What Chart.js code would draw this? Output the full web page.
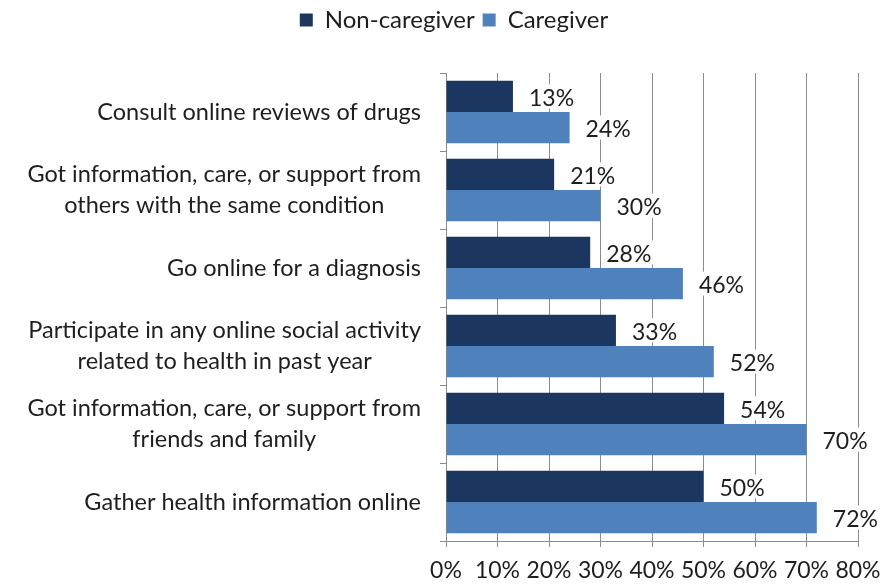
<!DOCTYPE html>
<html>
<head>
<meta charset="utf-8">
<script src="https://cdn.jsdelivr.net/npm/chart.js@4.4.0/dist/chart.umd.min.js"></script>
<style>
  html, body { margin: 0; padding: 0; background: #fff; }
  #wrap { width: 882px; height: 584px; }
</style>
</head>
<body>
<div id="wrap"><canvas id="chart"></canvas></div>
<script>
const categories = [
    ["Consult online reviews of drugs"],
    ["Got information, care, or support from", "others with the same condition"],
    ["Go online for a diagnosis"],
    ["Participate in any online social activity", "related to health in past year"],
    ["Got information, care, or support from", "friends and family"],
    ["Gather health information online"]
];
const nonCaregiver = [13, 21, 28, 33, 54, 50];
const caregiver = [24, 30, 46, 52, 70, 72];
const xTicks = [0, 10, 20, 30, 40, 50, 60, 70, 80];

const FONT = "Lato, 'Open Sans', sans-serif";
const TEXT = "#1e1e1e";

// labels on the left: single lines right aligned, wrapped lines centred together
const catLabels = {
    id: 'catLabels',
    afterDraw(chart) {
        const c = chart.ctx, y = chart.scales.y;
        const right = chart.chartArea.left - 25;
        c.save();
        c.font = "23.5px " + FONT;
        c.fillStyle = TEXT;
        c.textBaseline = 'middle';
        categories.forEach((lines, i) => {
            const cy = y.getPixelForValue(i);
            const w = Math.max(...lines.map(l => c.measureText(l).width));
            const cx = right - w / 2;
            c.textAlign = 'center';
            lines.forEach((l, j) => {
                c.fillText(l, cx, cy + (j - (lines.length - 1) / 2) * 31);
            });
        });
        c.restore();
    }
};

// value labels with white box behind them
const valueLabels = {
    id: 'valueLabels',
    afterDatasetsDraw(chart) {
        const c = chart.ctx;
        c.save();
        c.font = "23px " + FONT;
        c.textBaseline = 'middle';
        c.textAlign = 'left';
        chart.data.datasets.forEach((ds, di) => {
            chart.getDatasetMeta(di).data.forEach((bar, i) => {
                const txt = ds.data[i] + '%';
                const x = bar.x + 16, w = c.measureText(txt).width;
                c.fillStyle = '#fff';
                c.fillRect(x - 2, bar.y - 12, w + 4, 24);
                c.fillStyle = TEXT;
                c.fillText(txt, x, bar.y + 2);
            });
        });
        c.restore();
    }
};

// extra room under the legend, and legend nudged to the right like the original
const legendGap = {
    id: 'legendGap',
    beforeInit(chart) {
        const lg = chart.legend;
        const fit = lg.fit;
        lg.fit = function () {
            fit.bind(lg)();
            this.height += 31;
        };
        const draw = lg.draw;
        lg.draw = function () {
            chart.ctx.save();
            chart.ctx.translate(25, 0);
            draw.apply(lg, arguments);
            chart.ctx.restore();
        };
    }
};

new Chart(document.getElementById('chart'), {
    type: 'bar',
    data: {
        labels: categories,
        datasets: [{
            label: 'Non-caregiver',
            data: nonCaregiver,
            backgroundColor: '#1b365f',
            borderWidth: 0,
            categoryPercentage: 0.8,
            barPercentage: 1.0
        }, {
            label: 'Caregiver',
            data: caregiver,
            backgroundColor: '#4f81bd',
            borderWidth: 0,
            categoryPercentage: 0.8,
            barPercentage: 1.0
        }]
    },
    options: {
        indexAxis: 'y',
        responsive: true,
        maintainAspectRatio: false,
        animation: false,
        layout: { padding: { left: 0, right: 24, top: 0, bottom: 0 } },
        scales: {
            x: {
                min: 0,
                max: 80,
                afterBuildTicks: s => { s.ticks = xTicks.map(v => ({ value: v })); },
                afterFit: s => { s.height = 43; s.paddingLeft = 0; s.paddingRight = 0; },
                ticks: {
                    callback: v => v + '%',
                    font: { family: FONT, size: 23 },
                    color: TEXT,
                    padding: 10,
                    maxRotation: 0,
                    autoSkip: false
                },
                grid: { color: '#8c8c8c', lineWidth: 1, tickLength: 6, tickColor: '#8c8c8c' },
                border: { color: '#8c8c8c' }
            },
            y: {
                afterFit: s => { s.width = 446; },
                ticks: { color: 'transparent', font: { size: 20 } },
                grid: { drawOnChartArea: false, offset: true, tickLength: 6, color: '#8c8c8c' },
                border: { color: '#8c8c8c' }
            }
        },
        plugins: {
            legend: {
                position: 'top',
                labels: {
                    font: { family: FONT, size: 24 },
                    color: TEXT,
                    boxWidth: 13,
                    boxHeight: 13,
                    padding: 8
                }
            },
            tooltip: { enabled: false }
        }
    },
    plugins: [catLabels, valueLabels, legendGap]
});
</script>
</body>
</html>
